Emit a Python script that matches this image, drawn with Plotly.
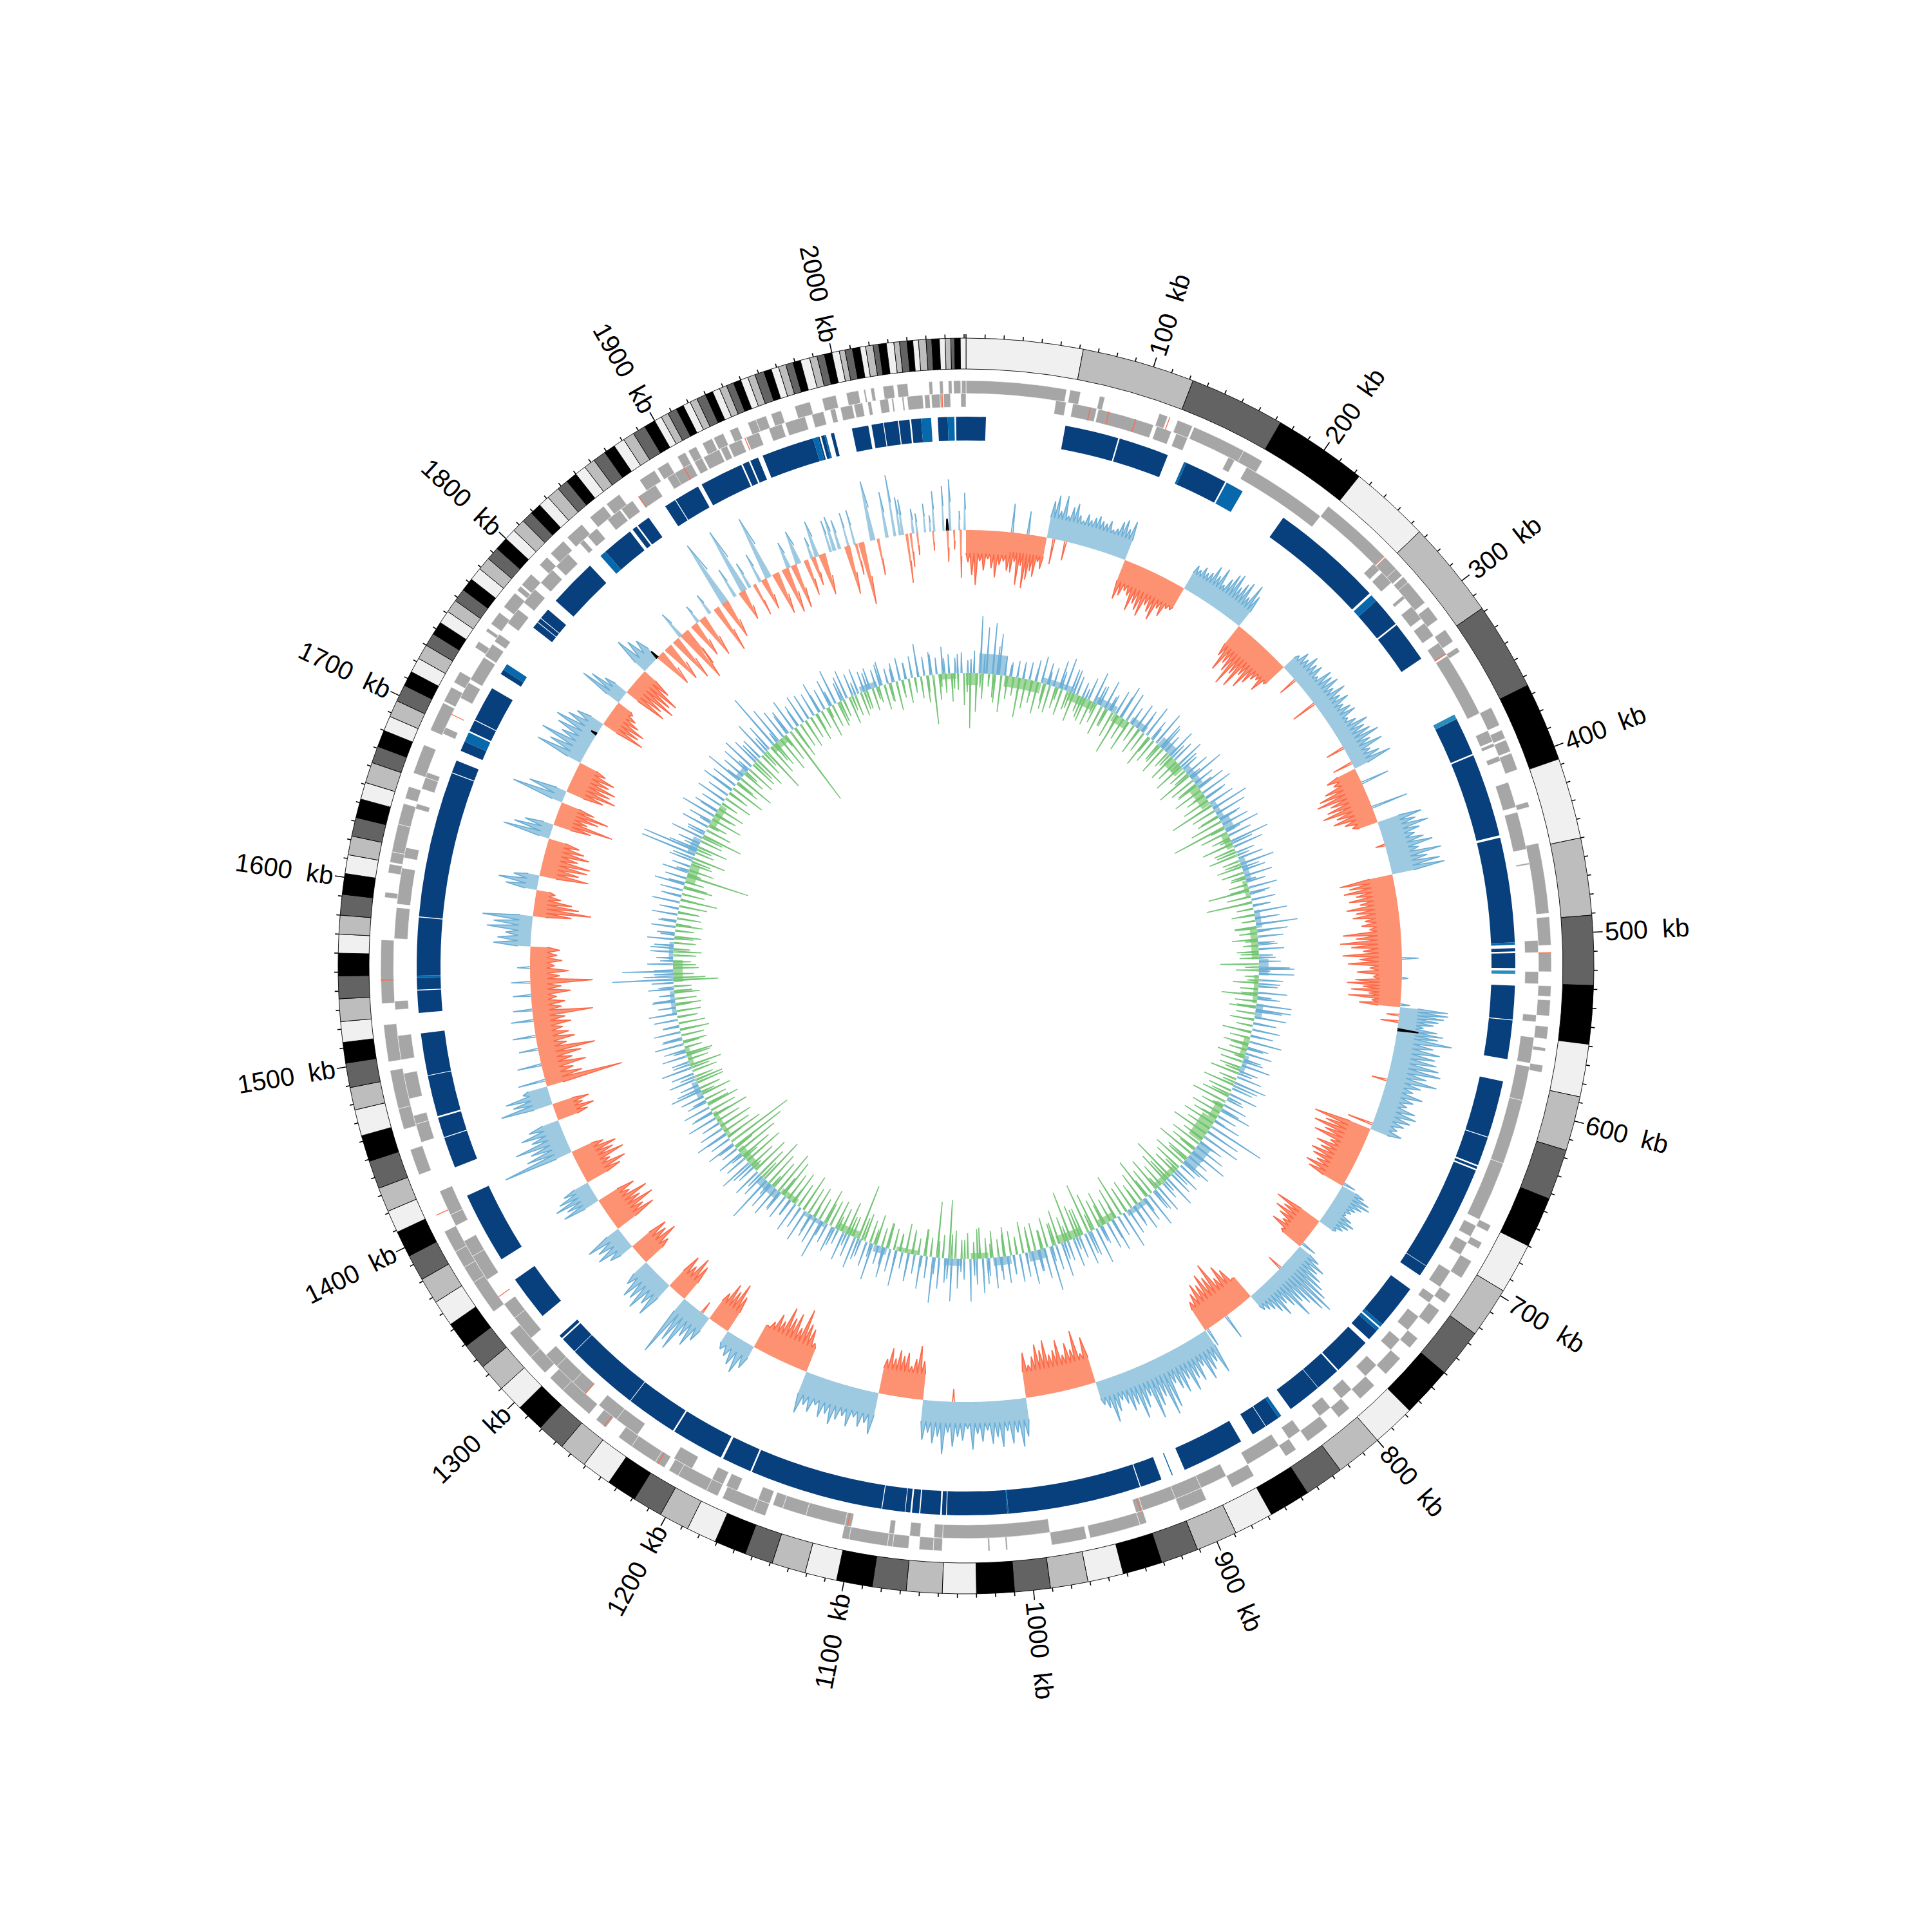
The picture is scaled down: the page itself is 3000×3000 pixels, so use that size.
import numpy as np
import plotly.graph_objects as go

TOTAL_KB = 2071
# ---------- ideogram: end position (kb) of each band; colours cycle
BAND_ENDS = [62,122,173,223,266,318,365,407,450,491,528,559,587,616,643,670,697,724,750,777,
 800,825,846,868,889,911,931,952,971,991,1010,1030,1048,1067,1085,1104,1121,1139,1154,1171,
 1187,1203,1219,1235,1251,1266,1281,1296,1310,1325,1339,1353,1367,1381,1395,1409,1421,1434,1449,1463,
 1477,1489,1502,1513,1524,1536,1548,1560,1570,1580,1591,1602,1612,1622,1632,1642,1651,1662,1671,1680,
 1688,1697,1706,1714,1722,1730,1737,1744,1751,1758,1765,1772,1779,1786,1793,1800,
 1806,1813,1819,1825,1831,1838,1844,1850,1856,1862,1869,1875,1881,1887,1894,1900,
 1904,1908,1913,1917,1921,1925,1930,1934,1938,1942,1946,1950,1954,1958,1963,1967,1971,1975,1979,1983,1988,1992,1996,2000,
 2004,2007,2011,2015,2018,2022,2025,2029,2033,2036,2040,2043,2046,2050,2053,2057,2060,2063,2065,2068,TOTAL_KB]
BAND_COLORS = ["#f0f0f0","#bdbdbd","#636363","#000000"]

# ---------- tick labels
LABEL_KB = list(range(100,2001,100))

# ---------- gene tracks: (start,end) kb
GENE_OUTER = [(0,57),(59,65),(76,79),(111,116),(122,131),(132,163),(163,175),(220,262),(263,272),(272,277),(278,282),(282,297),(300,309),(316,324),(328,331),
 (367,378),(381,386),(387,394),(395,405),(424,427),(448,488),(490,506),(510,521),(529,535),(537,546),(552,559),(564,566),(574,578),
 (669,673),(680,684),(692,703),(714,720),(725,735),(745,752),(760,772),(781,792),(800,808),(816,830),(838,845),(866,880),(896,912),(932,936),(936,965),(967,987),(1012,1013),(1022,1023),
 (1049,1054),(1054,1062),(1068,1077),(1077,1080),(1080,1102),(1102,1106),(1151,1158),(1158,1177),(1180,1187),(1187,1205),(1205,1211),(1214,1220),(1220,1236),(1236,1245),(1254,1261),
 (1266,1286),(1286,1296),(1300,1312),(1312,1330),(1345,1365),(1365,1375),(1375,1385),(1385,1398),(1433,1448),(1460,1472),(1472,1494),(1499,1520),(1532,1568),
 (1592,1595),(1606,1611),(1612,1618),(1618,1634),(1634,1646),(1649,1656),(1664,1681),(1690,1707),(1708,1717),
 (1720,1727),(1743,1747),(1754,1756),(1759,1767),(1771,1781),(1783,1786),(1787,1795),(1802,1808),(1811,1821),(1824,1835),(1841,1851),(1853,1862),(1876,1886),(1888,1895),(1901,1906),(1908,1913),(1917,1923),(1924,1930),(1934,1939),(1945,1950),(1950,1956),(1959,1965),(1973,1982),(1989,1997),(2003,2010),(2013,2014),(2017,2019),(2024,2030),(2032,2038),(2050,2052),(2056,2058),(2061,2063),(2064,2068),(2068.5,2071)]
GENE_INNER = [(52,58),(62,76),(77,110),(112,121),(124,131),(157,161),(169,220),(261,266),(268,276),(286,288),(294,303),(306,315),(320,328),(329,367),(378,385),(386,388),(394,397),(410,425),(428,450),(458,459),(503,510),(521,528),(546,550),
 (559,574),(576,596),(596,634),(634,669),(673,680),(684,692),(703,714),(720,725),(735,745),(752,760),(772,781),(792,800),(808,816),(830,838),(845,866),(880,896),(896,912),(912,932),(932,936),(987,1049),
 (1049,1054),(1062,1068),(1077,1080),(1102,1106),(1106,1129),(1129,1143),(1143,1149),(1151,1158),(1171,1178),(1180,1187),(1200,1212),(1237,1252),(1252,1265),(1275,1285),(1285,1298),(1298,1307),(1320,1335),(1335,1345),
 (1362,1378),(1378,1388),(1398,1405),(1405,1420),(1450,1461),(1461,1466),(1476,1491),(1499,1513),(1528,1533),(1569,1587),(1589,1610),(1616,1622),(1645,1648),(1657,1664),(1664,1667),(1691,1695),
 (1714,1724),(1726,1741),(1742,1750),(1752,1757),(1765,1775),(1780,1790),(1795,1805),(1808,1818),(1827,1830),(1833,1840),(1848,1857),(1858,1866),(1870,1882),(1890,1900),(1895,1906),(1908,1913),(1914,1924),(1925,1929),(1930,1938),(1941,1949),(1955,1963),(1965,1977),(1981,1988),(1992,1995),(1998,2005),(2006,2011),(2014,2016),(2021,2026),(2028,2029),(2034,2035),(2037,2046),(2047,2050),(2051,2056),(2056,2057),(2058,2062),(2068,2071)]
GENE_RED_OUTER = [117,262,510,1408,1545,1255,1218]
GENE_RED_INNER = [72,83,99,327.5,933,1350,1275,1104,1703,1870,1901,1940,2057]

# ---------- dark-blue block track
BLOCK_DARK = [(0,12),(60,92.6),(93.5,124),(136,162),(203,272),(278,296),(297,322),(364,387),(388,438.5),(440,503.5),(507,509),(510,519),(529.5,550),(550.5,574),(587.5,622),(622.5,640),(641,642.5),(643.5,708),(708.3,715),
 (725,752),(757,764),(767,790),(791,806),(806.3,827),(836,845),(845.4,854.5),(862.6,900.5),(915.6,928.7),(929.3,1010),(1010.6,1047),(1047.5,1050),(1051,1063),(1063.7,1068),(1069,1072),(1072.4,1086),(1086.5,1167.5),(1168.5,1186.5),(1188,1220),(1221,1252),(1252.4,1296.7),(1297,1307),(1308,1310),
 (1325.6,1353),(1367.6,1411),(1429.5,1448.3),(1448.8,1461),(1462,1486.8),(1487.2,1512.7),(1525,1538.5),(1539,1546),(1547.5,1582.5),(1583,1671.5),(1672,1679.6),(1686,1692),(1699,1706),(1706.5,1728),(1738,1741),(1772,1776),(1776.4,1779),(1779.4,1786),(1793,1822.5),
 (1835,1854),(1856,1859),(1860,1868),(1880,1887),(1887.5,1903),(1905.5,1932),(1933,1937),(1938,1943),(1946,1978),(1981,1982),(1983,1985),(1989,1991),(2002,2012),(2014,2021),(2021.5,2030),(2030.6,2037),(2038,2044),(2054,2060),(2065,TOTAL_KB)]
BLOCK_MID = [(134.6,136),(163,174),(273.5,278),(503.5,505),(752,754),(755,757),(834,836),(908.3,908.9),(1010,1010.6),(1546,1547.5),(1741,1745),(1692,1698),(1831,1835),(1978,1981),(1985,1986),(2044,2050),(2060,2064)]
BLOCK_PALE = [(361,364),(520.5,522.5)]

# ---------- GC-skew style track: (start,end,floor,[peaks]) in track units
SKEW_POS = [
 (61.5,123,32,[58,68,45,70,40,55,62,45,38,50,42,48,52,46,44,50,38,42,55,60,48,62]),
 (172.6,223,28,[42,38,46,40,44,58,46,62,38,52,64,68,50,60,66,45,70,55]),
 (269,363,22,[30,42,36,48,40,44,30,50,46,52,38,54,40,50,36,44,48,30,40,56,46,52,62,44,60,36,48,63]),
 (407,448,34,[70,58,76,60,50,62,74,50,84,60,78,84]),
 (549,571,28,[75,76,70,62,55,40,62,72,65]),
 (571,644,28,[88,60,72,66,70,75,80,60,78,55,45,62,50,42,58,62,55,48,40,50]),
 (692,724,24,[40,52,56,46,38,34,28,42,50,44,38,30]),
 (748,801,20,[40,55,48,60,70,82,100,90,70,60,82,56,45,62,50,40,35,30]),
 (844,936,26,[73,50,60,72,45,66,58,75,52,70,60,48,84,93,60,72,89,50,66,80,55,62,48,40,55,70,45,38]),
 (990,1068,33,[60,75,52,68,48,72,56,66,45,62,50,74,42,60,54,70,48,82,55,66,50,62]),
 (1102,1159,35,[66,50,58,45,62,48,56,66,52,60,44,58,50,66]),
 (1203,1226,20,[40,53,45,36,30]),
 (1243,1267,24,[45,60,50,80,70,100]),
 (1282,1307,26,[63,50,66,56,60,44]),
 (1323,1340,22,[40,55,48,60]),
 (1366,1382,24,[60,50,66,56,44]),
 (1408,1434,26,[111,70,60,82,52,66,50]),
 (1447,1461,30,[82,60,70,40]),
 (1568,1591,20,[58,52,40,70,60,78]),
 (1611,1622,18,[50,62,40]),
 (1651,1662,16,[75,60,45]),
 (1680,1689,16,[83,60]),
 (1713,1747,22,[77,60,79,50,62,70,55,45]),
 (1767,1777,22,[71,60,40]),
 (1798,1812,20,[61,50,42]),
]
SKEW_NEG = [
 (0,35,36,[50,70,85,48,62,44,58,72,52,46,60]),
 (35,61.5,30,[62,45,80,50,84,70,56,64,40,50]),
 (123,172.6,34,[63,55,45,50,72,58,66,73,52,60,70,48,58,42,40]),
 (223,269,35,[55,77,60,70,90,66,85,58,76,62,50,45,60,40]),
 (363,407,30,[50,42,60,72,79,60,68,78,58,66,50,40]),
 (448,490,36,[84,70,80,62,74,58,80,66,72,54,60,48]),
 (490,528,36,[90,70,95,78,60,92,66,84,50,70,44]),
 (528,549,34,[72,85,60,78,50,82,45,64]),
 (644,692,34,[91,70,86,66,80,50,70,60,72,66,56,70,62]),
 (724,748,34,[77,60,70,59,48,62,40]),
 (801,844,38,[40,62,74,58,89,70,80,66,72,60,50]),
 (936,990,40,[74,50,88,60,72,55,80,66,60,84,70,80,62,50,70]),
 (1068,1102,40,[60,83,62,50,70,64,72,58,73,55]),
 (1159,1203,38,[46,66,72,93,60,80,70,84,58,66,50,40]),
 (1226,1243,34,[60,78,62,70,50]),
 (1267,1282,32,[60,70,50,62]),
 (1307,1323,34,[50,70,58,64]),
 (1340,1366,34,[70,56,78,60,76,50,62]),
 (1382,1408,34,[60,72,50,76,62,70,52]),
 (1434,1447,32,[50,62,46,58]),
 (1461,1568,26,[122,60,48,70,50,66,89,46,60,52,44,58,50,94,46,52,40,62,48,97,46,60,38,50,42,46]),
 (1591,1611,20,[60,90,70,58,40,30]),
 (1622,1651,26,[77,60,72,75,54,70,60,50]),
 (1662,1680,28,[60,93,50,66,80,55]),
 (1689,1713,28,[60,78,66,72,58,64,46]),
 (1747,1767,24,[70,58,64,50,40,30]),
 (1777,1798,22,[70,60,78,66,74,52]),
]
# top-left stretch: separate wedges (kb, base width kb, height)
WEDGE_POS = [(1836,2.5,44),(1853,2,30),(1864,2,34),(1878,5,106),(1887,2,48),(1895,4.5,105),(1900,2,42),(1909,2,47),(1916,4.5,101),(1933,3,42),(1941,4,53),(1952,2,34),(1956,3,57),(1967,1.5,50),(1970,2.5,54),(1974,2,46),(1981,1.2,53),(1986,1.2,55),(2000,3.5,93),(2011,2,71),(2017,1.5,95),(2021,1.5,59),(2023,1.5,55),(2031,1.5,38),(2034,1.2,30),(2040,1,44),(2044,1,25),(2047,1.2,62),(2054,1,69),(2059,1.5,79),(2066,1,30),(2070,1.2,58)]
WEDGE_NEG = [(1815,6,60),(1823,6,64),(1831,5,74),(1839,6,86),(1842,2,64),(1849,5,58),(1857,5,68),(1870,4,76),(1878,5,62),(1893,5,48),(1904,2,52),(1912,4,50),(1922,5,67),(1930,5,72),(1937,4,70),(1947,3,57),(1953,3,45),(1960,5,65),(1980,4,76),(1987,1.5,49),(1991,4,98),(2004,1.5,57),(2026,1.5,76),(2029,1.2,52),(2034,1,35),(2046,.8,30),(2057,1.2,49),(2062,1,30),(2067,1.2,74)]
SPIKE_POS = [(35,45),(47,36),(375,45),(395,58),(512,26),(527,10),(547,15),(690,20),(745,25),(825,40),(842,30),
 (1466,43),(1478,38),(1490,30),(1500,36),(1512,35),(1520,30),(1531,28),(1541,30),(1552,20)]
SPIKE_NEG = [(67,40),(76,30),(282,30),(305,40),(345,30),(358,32),(425,15),(555,20),(560,28),(605,24),(640,40),(770,24),(1045,20),(1250,20)]
SPIKE_BLACK = [(566,33),(2057,18),(1812,14),(1738,10)]

# ---------- inner track: one value per equal step round the ring
INNER_POS = [20,35,89,72,80,64,30,22,26,18, 28,20,42,34,30,44,52,38,30,24, 36,50,32,46,28,40,54,48,30,42,
 38,52,34,56,44,30,48,36,46,28, 40,58,34,46,52,30,42,60,50,36, 44,56,38,62,48,30,40,54,36,44,
 30,46,24,38,28,52,22,34,48,40, 26,40,22,34,48,55,38,30,46,36, 55,42,50,30,44,36,52,34,42,28,
 46,30,40,52,34,46,28,38,50,32, 44,91,56,62,40,50,61,36,48,30, 44,38,52,30,46,34,56,40,48,36,
 42,60,34,52,44,30,58,40,50,36, 46,32,54,40,70,48,34,52,38,44, 30,42,36,48,28,54,40,66,32,46,
 66,38,48,71,34,52,30,44,26,56, 36,48,30,58,40,28,50,36,46,24, 42,32,63,44,30,52,36,48,28,40,
 34,50,44,75,38,46,30,54,36,42, 28,46,34,52,40,30,48,36,44,32, 38,50,30,44,36,48,28,40,34,46,
 30,42,26,38,44,28,36,24,40,34, 46,30,40,26,36,30,42,28,38,24, 40,30,44,26,36,48,34,42,30,38,
 88,46,36,52,30,44,38,56,40,34, 48,36,52,42,60,38,46,54,44,36, 58,44,92,60,48,40,52,36,46,42,
 38,50,34,44,56,30,46,36,40,32, 34,28,38,24,30,36,26,34,52,30, 36,26,42,30,24,32]
INNER_NEG = [86,60,40,20,44,58,36,30,62,46, 36,50,28,44,34,42,30,46,26,38, 40,32,48,30,42,65,36,50,28,44,
 34,53,40,30,46,28,44,38,50,30, 58,42,36,48,32,44,71,40,30,52, 87,44,30,50,34,46,28,40,36,24,
 30,65,38,72,26,36,22,34,28,40, 24,34,30,60,36,22,40,28,56,34, 42,30,38,26,46,32,40,28,44,36,
 34,46,28,50,38,44,56,36,48,40, 52,40,60,36,50,44,62,38,54,46, 40,71,52,38,56,44,67,50,36,48,
 42,68,50,38,54,46,60,80,44,52, 78,40,54,36,48,30,44,34,50,28, 38,46,28,42,32,48,26,40,30,44,
 91,36,87,30,42,26,38,46,28,34, 40,30,48,36,44,87,32,52,38,46, 42,56,36,50,44,60,40,54,46,62,
 71,48,56,74,50,62,44,66,52,70, 89,108,60,46,54,40,58,42,52,36, 48,34,44,30,40,50,32,42,28,38,
 36,26,42,30,38,24,34,40,28,70, 32,40,28,36,26,34,42,30,24,38, 32,44,58,36,46,30,99,40,34,52,
 30,48,36,64,42,30,50,36,44,28, 46,34,56,40,60,36,48,44,52,38, 73,50,42,58,46,130,52,40,46,36,
 44,30,48,36,40,28,44,34,38,30, 36,26,40,30,46,28,38,24,34,42, 77,40,30,44,26,50]
# shorter spikes that sit between the main ones
INNER_POS_FINE = [22,30,44,18,26,34,20,28,38,16, 30,24,36,18,28,22,40,26,32,20, 26,36,18,30,24,34,20,28,16,32, 24,38,20,30,26,18,34,22,28,36,
 18,26,32,22,40,24,30,18,36,26, 22,34,28,20,38,24,30,16,32,26, 36,20,28,24,34,18,30,22,40,26, 20,32,26,18,36,24,28,22,34,20,
 30,24,38,18,28,32,22,26,36,20, 28,34,18,30,22,38,24,28,20,32, 26,18,34,24,30,20,36,22,28,16, 32,26,20,34,24,28,18,30,22,36,
 24,20,32,26,18,34,28,22,30,24, 38,20,28,34,22,26,18,32,24,30]
INNER_NEG_FINE = [30,22,36,18,28,24,40,20,26,34, 18,30,24,38,20,28,32,22,16,26, 34,20,28,36,24,18,32,26,22,30, 16,24,34,20,28,22,18,26,30,14,
 22,28,16,24,20,30,18,26,14,22, 28,34,24,38,20,30,26,42,22,34, 28,44,24,36,30,40,26,34,22,46, 30,38,26,42,34,28,40,24,36,30,
 22,34,18,28,24,32,20,30,16,26, 32,24,40,28,36,22,44,30,38,26, 46,32,40,28,50,36,44,30,42,34, 26,38,22,30,24,34,18,28,20,26,
 30,22,36,26,32,20,38,24,28,18, 34,24,30,20,28,22,18,26,20,24]
INNER_BIG_POS = [(471,65),(521,55),(567,55),(1538,95),(1547,79),(1686,88)]
INNER_BANDS = [(0,14,-18),(14,44,30),(44,86,-16),(86,120,8),(120,150,-12),(150,175,10),(175,195,-12),(195,215,10),(235,255,14),(255,275,-16),(275,300,10),(300,325,-14),(325,345,8),(345,362,14),
 (362,380,-10),(395,420,8),(420,440,-6),(455,475,8),(475,510,-10),(510,528,14),(528,560,-6),(560,575,10),(600,620,-8),(620,640,6),(680,700,-12),(700,730,-22),(730,760,20),(770,800,-8),(820,845,8),(860,880,-10),(900,930,-12),(945,965,14),(985,1005,12),
 (1010,1030,-8),(1040,1060,10),(1090,1115,-6),(1125,1140,10),(1160,1185,-10),(1200,1225,6),(1240,1262,-8),(1262,1290,12),(1300,1330,-10),(1350,1380,-6),(1400,1420,8),(1440,1460,-6),(1500,1525,6),(1535,1560,-14),(1560,1580,6),(1650,1670,-14),(1680,1700,12),(1720,1745,-10),(1780,1795,8),(1830,1850,-10),(1950,1970,8),(2040,2060,-8)]

# ---------- radii, pixel-like units in a 3000 wide polar plot
R_MAX = 1500
R_RING0, R_RING1 = 927, 975
R_G1, R_G2, R_G3 = 868, 889, 909
R_B0, R_B1 = 816, 853
R_SKEW = 677
R_INNER = 455

def deg(kb):
    return np.asarray(kb, dtype=float) * 360.0 / TOTAL_KB

fig = go.Figure()

def bars(runs, base, top, color, line=None, line_color="#000000"):
    runs = np.asarray(runs, dtype=float)
    mid = deg((runs[:,0]+runs[:,1])/2)
    wid = deg(runs[:,1]-runs[:,0])
    fig.add_trace(go.Barpolar(theta=mid, width=wid, base=[base]*len(runs), r=[top-base]*len(runs),
        marker=dict(color=color, line=dict(width=(line or 0), color=line_color)), hoverinfo="skip", showlegend=False))

def polyline(kbs, rs, color, width=1.6):
    fig.add_trace(go.Scatterpolar(theta=kbs, r=rs, mode="lines", line=dict(color=color, width=width),
        hoverinfo="skip", showlegend=False, connectgaps=False))

# ideogram
starts = [0]+BAND_ENDS[:-1]
runs = list(zip(starts, BAND_ENDS))
bars(runs, R_RING0, R_RING1, [BAND_COLORS[i % 4] for i in range(len(runs))], line=0.9)

# ticks
tt, tr = [], []
for kb in range(0, TOTAL_KB, 10):
    L = 15 if (kb % 100 == 0 and kb > 0) else 6
    t = float(deg(kb))
    tt += [t, t, None]; tr += [R_RING1, R_RING1+L, None]
polyline(tt, tr, "#000000", 1.6)

# genes
bars(GENE_OUTER, R_G2, R_G3, "#a6a6a6", line=0.6, line_color="#ffffff")
bars(GENE_INNER, R_G1, R_G2, "#a6a6a6", line=0.6, line_color="#ffffff")
bars([(k, k+0.5) for k in GENE_RED_OUTER], R_G2, R_G3, "#fb6a4a")
bars([(k, k+0.5) for k in GENE_RED_INNER], R_G1, R_G2, "#fb6a4a")

# blocks
bars(BLOCK_DARK, R_B0, R_B1, "#08407e")
bars(BLOCK_MID, R_B0, R_B1, "#0868ac")
bars(BLOCK_PALE, R_B0, R_B1, "#2b8cbe")

def area(segments, base, sign, fill, line_color):
    ft, fr, lt, lr = [], [], [], []
    for (a, b, floor, peaks) in segments:
        n = len(peaks)
        xs = np.linspace(a, b, 2*n+1)
        vals = []
        for p in peaks:
            vals += [floor, p]
        vals.append(floor)
        t = deg(xs).tolist()
        r = [base + sign*v for v in vals]
        lt += t + [None]; lr += r + [None]
        back = np.linspace(b, a, max(3, int((b-a))+2))
        ft += [float(deg(a))] + t + deg(back).tolist() + [None]
        fr += [base] + r + [base]*len(back) + [None]
    fig.add_trace(go.Scatterpolar(theta=ft, r=fr, mode="lines", fill="toself", fillcolor=fill,
        line=dict(width=0, color=fill), hoverinfo="skip", showlegend=False))
    polyline(lt, lr, line_color, 1.7)

area(SKEW_POS, R_SKEW, 1, "#9ecae1", "#6baed6")
area(SKEW_NEG, R_SKEW, -1, "#fc9272", "#fb6a4a")

def wedges(items, base, sign, fill, line_color):
    t, r, lt, lr = [], [], [], []
    for kb, w, v in items:
        a, c, b = float(deg(kb-w/2)), float(deg(kb)), float(deg(kb+w/2))
        t += [a, c, b, a, None]; r += [base, base+sign*v, base, base, None]
        lt += [b, c, None]; lr += [base+sign*0.55*v, base+sign*v, None]
    fig.add_trace(go.Scatterpolar(theta=t, r=r, mode="lines", fill="toself", fillcolor=fill,
        line=dict(width=1.2, color=fill), hoverinfo="skip", showlegend=False))
    polyline(lt, lr, line_color, 1.7)

wedges(WEDGE_POS, R_SKEW, 1, "#9ecae1", "#6baed6")
wedges(WEDGE_NEG, R_SKEW, -1, "#fc9272", "#fb6a4a")

def spikes(items, base, sign, color, width=1.7):
    t, r = [], []
    for kb, v in items:
        d = float(deg(kb)); e = 0.12
        t += [d-e, d, d+e, None]; r += [base, base+sign*v, base, None]
    polyline(t, r, color, width)

spikes(SPIKE_POS, R_SKEW, 1, "#6baed6")
spikes(SPIKE_NEG, R_SKEW, -1, "#fb6a4a")
spikes(SPIKE_BLACK, R_SKEW, 1, "#000000", 2.4)

# inner track
inner_pos_band = [(a, b, v) for a, b, v in INNER_BANDS if v > 0]
inner_neg_band = [(a, b, -v) for a, b, v in INNER_BANDS if v < 0]
area([(a, b, v, [v]) for a, b, v in inner_pos_band], R_INNER, 1, "#9ecae1", "#9ecae1")
area([(a, b, v, [v]) for a, b, v in inner_neg_band], R_INNER, -1, "#a1d99b", "#a1d99b")

def ring_spikes(values, sign, color, shift):
    step = TOTAL_KB/len(values)
    spikes([(i*step+shift, v) for i, v in enumerate(values)], R_INNER, sign, color, 1.5)

ring_spikes(INNER_POS, 1, "#6baed6", 2.0)
ring_spikes(INNER_POS_FINE, 1, "#6baed6", 5.5)
spikes(INNER_BIG_POS, R_INNER, 1, "#6baed6", 1.5)
ring_spikes(INNER_NEG, -1, "#74c476", 5.0)
ring_spikes(INNER_NEG_FINE, -1, "#74c476", 1.5)

# labels
ann = []
for kb in LABEL_KB:
    th = float(deg(kb))
    txt = f"{kb}\u00a0\u00a0kb"
    rc = 1069 if kb >= 1000 else 1059
    ang = th-90 if th < 180 else th-270
    s, c = np.sin(np.radians(th)), np.cos(np.radians(th))
    ann.append(dict(x=0.5+rc*s/3000, y=0.5+rc*c/3000, xref="paper", yref="paper", text=txt, showarrow=False,
                    textangle=ang, xanchor="center", yanchor="middle",
                    font=dict(family="Liberation Sans, sans-serif", size=40, color="#000000")))

fig.update_layout(width=3000, height=3000, margin=dict(l=0,r=0,t=0,b=0), paper_bgcolor="#ffffff", showlegend=False,
    annotations=ann,
    polar=dict(domain=dict(x=[0,1], y=[0,1]), bgcolor="#ffffff",
        radialaxis=dict(range=[0,R_MAX], visible=False),
        angularaxis=dict(visible=False, direction="clockwise", rotation=90, thetaunit="degrees")))
fig.write_html("out.html", post_script="document.body.style.margin='0';", config={"displayModeBar": False})
